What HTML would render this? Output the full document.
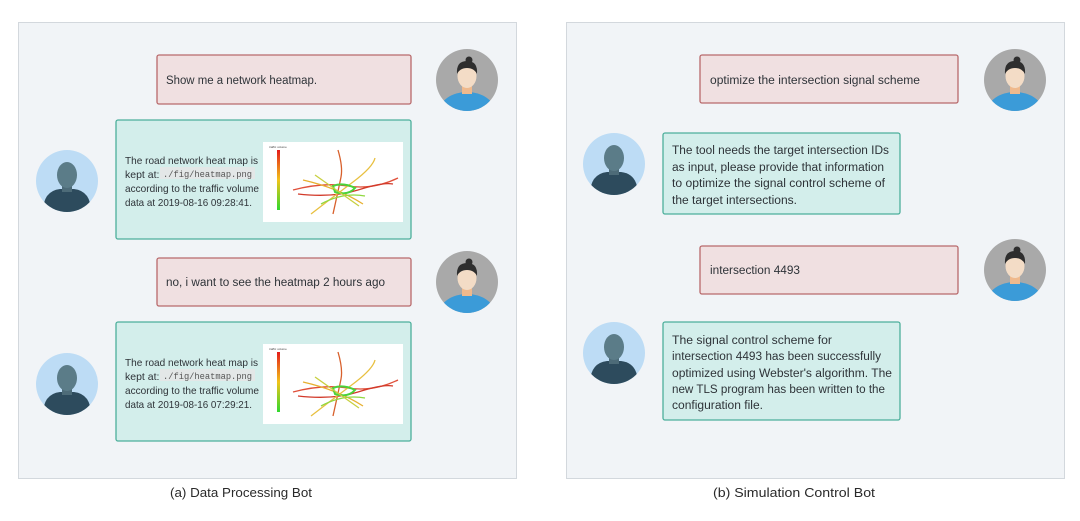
<!DOCTYPE html>
<html><head><meta charset="utf-8"><style>
html,body{margin:0;padding:0;background:#fff;}
svg{display:block;font-family:"Liberation Sans",sans-serif;}
.t{fill:#2e3338;font-size:11.5px;}
.s{fill:#2e3338;font-size:10.5px;}
.c{fill:#2a2a2a;font-size:12.5px;}
</style></head><body>
<svg width="1080" height="521" viewBox="0 0 1080 521" xmlns="http://www.w3.org/2000/svg">
<defs>
<g id="user">
 <clipPath id="cu"><circle cx="0" cy="0" r="31"/></clipPath>
 <circle cx="0" cy="0" r="31" fill="#a9a9a9"/>
 <g clip-path="url(#cu)">
  <ellipse cx="0" cy="32" rx="28" ry="20" fill="#3b9bd8"/>
  <rect x="-5" y="4" width="10" height="10" fill="#efb98c"/>
  <ellipse cx="0" cy="-4" rx="9.5" ry="12" fill="#f3dcc6"/>
  <path d="M-10,-6 Q-11,-19 0,-19 Q11,-19 10,-6 Q7,-12 0,-12 Q-7,-12 -10,-6Z" fill="#2e2e2e"/>
  <circle cx="2" cy="-20" r="3.5" fill="#2e2e2e"/>
 </g>
</g>
<g id="bot">
 <clipPath id="cb"><circle cx="0" cy="0" r="31"/></clipPath>
 <circle cx="0" cy="0" r="31" fill="#bddcf5"/>
 <g clip-path="url(#cb)">
  <path d="M-24,31 Q-24,10 -7,8 L7,8 Q24,10 24,31Z" fill="#2d4b5d"/>
  <rect x="-5" y="2" width="10" height="9" fill="#4d6b78"/>
  <ellipse cx="0" cy="-6" rx="10" ry="13" fill="#5b7c88"/>
 </g>
</g>
<g id="heat">
 <rect x="0" y="0" width="140" height="80" fill="#fff"/>
 <text x="6" y="6" font-size="3" fill="#444">traffic volume</text>
 <defs><linearGradient id="gr" x1="0" y1="0" x2="0" y2="1"><stop offset="0" stop-color="#e41b1b"/><stop offset=".5" stop-color="#f2c31a"/><stop offset="1" stop-color="#2fd82f"/></linearGradient></defs>
 <rect x="14" y="8" width="3" height="60" fill="url(#gr)"/>
 <g fill="none" stroke-width="1.3">
  <path d="M30,48 Q60,40 85,44 T135,36" stroke="#e0503a"/>
  <path d="M35,52 Q70,56 95,48 T130,42" stroke="#d23a2a"/>
  <path d="M75,8 Q80,25 78,35 T70,72" stroke="#d8602c"/>
  <path d="M48,72 Q70,55 90,40 T112,16" stroke="#e8c040"/>
  <path d="M40,38 Q75,46 100,62" stroke="#e7b030"/>
  <path d="M70,44 Q80,40 92,46 Q85,54 72,50Z" stroke="#4ad33a" stroke-width="2"/>
  <path d="M58,62 Q80,50 102,54" stroke="#90d840"/>
  <path d="M52,33 L96,64" stroke="#c8d040"/>
 </g>
</g>
</defs>

<rect x="18.5" y="22.5" width="498" height="456" fill="#f1f4f7" stroke="#d3d8dd"/>
<rect x="566.5" y="22.5" width="498" height="456" fill="#f1f4f7" stroke="#d3d8dd"/>

<rect x="157" y="55" width="254" height="49" rx="2" fill="#f0e0e1" stroke="#b8696b" stroke-width="1.3"/>
<text class="t" x="166" y="84" textLength="151" lengthAdjust="spacingAndGlyphs">Show me a network heatmap.</text>
<use href="#user" x="467" y="80"/>

<rect x="116" y="120" width="295" height="119" rx="2" fill="#d3eeeb" stroke="#4caf9b" stroke-width="1.3"/>
<use href="#bot" x="67" y="181"/>
<rect x="160" y="167" width="95" height="12" fill="#e3e7e7"/>
<text class="s" x="125" y="164" textLength="133" lengthAdjust="spacingAndGlyphs">The road network heat map is</text>
<text class="s" x="125" y="178">kept at:</text>
<text x="163" y="177" font-family="Liberation Mono,monospace" font-size="9" fill="#555" textLength="89" lengthAdjust="spacingAndGlyphs">./fig/heatmap.png</text>
<text class="s" x="125" y="192" textLength="134" lengthAdjust="spacingAndGlyphs">according to the traffic volume</text>
<text class="s" x="125" y="206" textLength="127" lengthAdjust="spacingAndGlyphs">data at 2019-08-16 09:28:41.</text>
<use href="#heat" x="263" y="142"/>

<rect x="157" y="258" width="254" height="48" rx="2" fill="#f0e0e1" stroke="#b8696b" stroke-width="1.3"/>
<text class="t" x="166" y="286" textLength="219" lengthAdjust="spacingAndGlyphs">no, i want to see the heatmap 2 hours ago</text>
<use href="#user" x="467" y="282"/>

<rect x="116" y="322" width="295" height="119" rx="2" fill="#d3eeeb" stroke="#4caf9b" stroke-width="1.3"/>
<use href="#bot" x="67" y="384"/>
<rect x="160" y="369" width="95" height="12" fill="#e3e7e7"/>
<text class="s" x="125" y="366" textLength="133" lengthAdjust="spacingAndGlyphs">The road network heat map is</text>
<text class="s" x="125" y="380">kept at:</text>
<text x="163" y="379" font-family="Liberation Mono,monospace" font-size="9" fill="#555" textLength="89" lengthAdjust="spacingAndGlyphs">./fig/heatmap.png</text>
<text class="s" x="125" y="394" textLength="134" lengthAdjust="spacingAndGlyphs">according to the traffic volume</text>
<text class="s" x="125" y="408" textLength="127" lengthAdjust="spacingAndGlyphs">data at 2019-08-16 07:29:21.</text>
<use href="#heat" x="263" y="344"/>

<rect x="700" y="55" width="258" height="48" rx="2" fill="#f0e0e1" stroke="#b8696b" stroke-width="1.3"/>
<text class="t" x="710" y="84" textLength="210" lengthAdjust="spacingAndGlyphs">optimize the intersection signal scheme</text>
<use href="#user" x="1015" y="80"/>

<rect x="663" y="133" width="237" height="81" rx="2" fill="#d3eeeb" stroke="#4caf9b" stroke-width="1.3"/>
<use href="#bot" x="614" y="164"/>
<text class="t" x="672" y="154" textLength="217" lengthAdjust="spacingAndGlyphs">The tool needs the target intersection IDs</text>
<text class="t" x="672" y="171" textLength="212" lengthAdjust="spacingAndGlyphs">as input, please provide that information</text>
<text class="t" x="672" y="187" textLength="213" lengthAdjust="spacingAndGlyphs">to optimize the signal control scheme of</text>
<text class="t" x="672" y="204" textLength="125" lengthAdjust="spacingAndGlyphs">the target intersections.</text>

<rect x="700" y="246" width="258" height="48" rx="2" fill="#f0e0e1" stroke="#b8696b" stroke-width="1.3"/>
<text class="t" x="710" y="274" textLength="90" lengthAdjust="spacingAndGlyphs">intersection 4493</text>
<use href="#user" x="1015" y="270"/>

<rect x="663" y="322" width="237" height="98" rx="2" fill="#d3eeeb" stroke="#4caf9b" stroke-width="1.3"/>
<use href="#bot" x="614" y="353"/>
<text class="t" x="672" y="344" textLength="160" lengthAdjust="spacingAndGlyphs">The signal control scheme for</text>
<text class="t" x="672" y="360" textLength="209" lengthAdjust="spacingAndGlyphs">intersection 4493 has been successfully</text>
<text class="t" x="672" y="377" textLength="220" lengthAdjust="spacingAndGlyphs">optimized using Webster's algorithm. The</text>
<text class="t" x="672" y="393" textLength="213" lengthAdjust="spacingAndGlyphs">new TLS program has been written to the</text>
<text class="t" x="672" y="409" textLength="91" lengthAdjust="spacingAndGlyphs">configuration file.</text>

<text class="c" x="170" y="497" textLength="142" lengthAdjust="spacingAndGlyphs">(a) Data Processing Bot</text>
<text class="c" x="713" y="497" textLength="162" lengthAdjust="spacingAndGlyphs">(b) Simulation Control Bot</text>
</svg>
</body></html>
